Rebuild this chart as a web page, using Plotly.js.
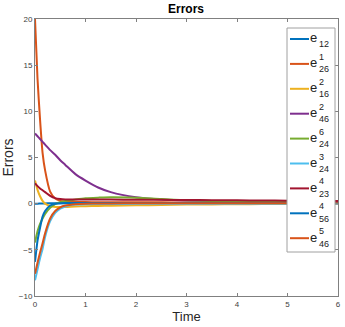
<!DOCTYPE html>
<html>
<head>
<meta charset="utf-8">
<script src="https://cdn.plot.ly/plotly-3.0.1.min.js"></script>
<style>
body { margin: 0; background: #fff; }
#chart { width: 345px; height: 327px; }
</style>
</head>
<body>
<div id="chart"></div>
<script>
// time samples (denser near 0 where things move fast)
var arr_t = [0, 0.05, 0.1, 0.15, 0.2, 0.3, 0.4, 0.5, 0.6, 0.8, 1, 1.25, 1.5, 2, 2.5, 3, 3.5, 4, 4.5, 5, 5.5, 6];

var e_12    = [0, 0, 0.01, 0.02, 0.03, 0.04, 0.05, 0.05, 0.05, 0.05, 0.05, 0.05, 0.05, 0.05, 0.05, 0.05, 0.05, 0.05, 0.05, 0.05, 0.05, 0.05];
var e1_26   = [20, 13.5, 9.1, 5.5, 3.6, 1.3, 0.55, 0.3, 0.22, 0.18, 0.17, 0.16, 0.16, 0.15, 0.14, 0.13, 0.12, 0.11, 0.1, 0.1, 0.09, 0.09];
var e2_16   = [2.5, 1.5, 0.8, 0.3, 0.0, -0.25, -0.35, -0.35, -0.35, -0.3, -0.28, -0.25, -0.22, -0.18, -0.14, -0.1, -0.08, -0.06, -0.04, -0.03, -0.02, -0.01];
var e2_46   = [7.6, 7.3, 7.0, 6.7, 6.4, 5.8, 5.3, 4.7, 4.2, 3.2, 2.5, 1.75, 1.25, 0.7, 0.45, 0.35, 0.3, 0.27, 0.25, 0.22, 0.2, 0.18];
var e6_24   = [-4.2, -3.0, -2.2, -1.6, -1.1, -0.45, -0.05, 0.15, 0.3, 0.45, 0.58, 0.65, 0.7, 0.65, 0.5, 0.38, 0.3, 0.25, 0.2, 0.18, 0.15, 0.13];
var e3_24   = [-8.3, -7.1, -5.9, -4.9, -3.6, -1.9, -1.0, -0.55, -0.3, -0.1, -0.05, -0.04, -0.03, -0.02, -0.02, -0.01, -0.01, 0, 0, 0, 0, 0];
var e4_23   = [2.2, 1.9, 1.65, 1.45, 1.25, 0.85, 0.6, 0.5, 0.46, 0.45, 0.45, 0.45, 0.44, 0.43, 0.42, 0.4, 0.38, 0.36, 0.34, 0.32, 0.31, 0.3];
var e4_56   = [-6.3, -4.0, -2.6, -1.4, -0.8, -0.2, 0, 0.05, 0.06, 0.06, 0.06, 0.06, 0.06, 0.06, 0.06, 0.06, 0.06, 0.06, 0.06, 0.06, 0.06, 0.06];
var e5_46   = [-7.6, -6.4, -5.3, -4.3, -3.2, -1.6, -0.8, -0.4, -0.2, -0.05, 0, 0.02, 0.03, 0.04, 0.05, 0.05, 0.05, 0.05, 0.05, 0.05, 0.05, 0.05];

var series = [e_12, e1_26, e2_16, e2_46, e6_24, e3_24, e4_23, e4_56, e5_46];
var leg_sup = ['', '1', '2', '2', '6', '3', '4', '4', '5'];
var leg_sub = ['12', '26', '16', '46', '24', '24', '23', '56', '46'];
var colors = ['#0072BD', '#D95319', '#EDB120', '#7E2F8E', '#77AC30', '#4DBEEE', '#A2142F', '#0072BD', '#D95319'];

var FONT = 'Liberation Sans, Arial, sans-serif';

// plot area in pixels (for placing the hand-made legend)
var pl = 35, pr = 338, pt = 19, pb = 296;
function px2x(px){ return (px - pl) / (pr - pl); }
function py2y(py){ return (pb - py) / (pb - pt); }

var data = [];
for (var i in series){
	data.push({
		x: arr_t,
		y: series[i],
		mode: 'lines',
		type: 'scatter',
		name: 'e' + leg_sup[i] + leg_sub[i],
		showlegend: false,
		line: {color: colors[i], width: 2, shape: 'spline', smoothing: 0.6}
	});
}

// legend box, sample lines and stacked super/subscripts
var shapes = [{
	type: 'rect', xref: 'paper', yref: 'paper',
	x0: px2x(287), x1: px2x(335), y0: py2y(252), y1: py2y(28),
	fillcolor: '#fff', line: {color: '#a0a0a0', width: 1}, layer: 'above'
}];
var annotations = [];
for (var i in series){
	var row = 39 + i * 24.9;
	var has_sup = leg_sup[i] != '';
	shapes.push({
		type: 'line', xref: 'paper', yref: 'paper',
		x0: px2x(290), x1: px2x(309), y0: py2y(row), y1: py2y(row),
		line: {color: colors[i], width: 2}, layer: 'above'
	});
	annotations.push({
		xref: 'paper', yref: 'paper', x: px2x(309), y: py2y(row - 1),
		text: 'e', showarrow: false, xanchor: 'left', yanchor: 'middle', borderpad: 0,
		font: {family: FONT, size: 13, color: '#222'}
	});
	if (has_sup){
		annotations.push({
			xref: 'paper', yref: 'paper', x: px2x(317.5), y: py2y(row - 7),
			text: leg_sup[i], showarrow: false, xanchor: 'left', yanchor: 'middle', borderpad: 0,
			font: {family: FONT, size: 9, color: '#222'}
		});
	}
	annotations.push({
		xref: 'paper', yref: 'paper', x: px2x(317.5), y: py2y(row + 5.5),
		text: leg_sub[i], showarrow: false, xanchor: 'left', yanchor: 'middle', borderpad: 0,
		font: {family: FONT, size: 9, color: '#222'}
	});
}

var layout = {
	width: 345,
	height: 327,
	margin: {l: pl, r: 345 - pr, t: pt, b: 327 - pb},
	paper_bgcolor: '#fff',
	plot_bgcolor: '#fff',
	font: {family: FONT, color: '#262626'},
	title: {
		text: '<b>Errors</b>',
		font: {family: FONT, size: 12, color: '#000'},
		x: 186 / 345, xanchor: 'center',
		y: 1 - 9 / 327, yanchor: 'middle'
	},
	xaxis: {
		range: [0, 6],
		tickvals: [0, 1, 2, 3, 4, 5, 6],
		ticks: 'inside', ticklen: 3, tickcolor: '#808080',
		showline: true, linecolor: '#808080', linewidth: 1, mirror: 'ticks',
		showgrid: false, zeroline: false,
		tickfont: {size: 8, color: '#404040'},
		title: {text: 'Time', font: {size: 13, color: '#262626'}, standoff: 4}
	},
	yaxis: {
		range: [-10, 20],
		tickvals: [-10, -5, 0, 5, 10, 15, 20],
		ticks: 'inside', ticklen: 3, tickcolor: '#808080',
		showline: true, linecolor: '#808080', linewidth: 1, mirror: 'ticks',
		showgrid: false, zeroline: false,
		tickfont: {size: 8, color: '#404040'},
		title: {text: 'Errors', font: {size: 14, color: '#262626'}, standoff: 4}
	},
	shapes: shapes,
	annotations: annotations
};

Plotly.newPlot('chart', data, layout, {displayModeBar: false, staticPlot: true});
</script>
</body>
</html>
